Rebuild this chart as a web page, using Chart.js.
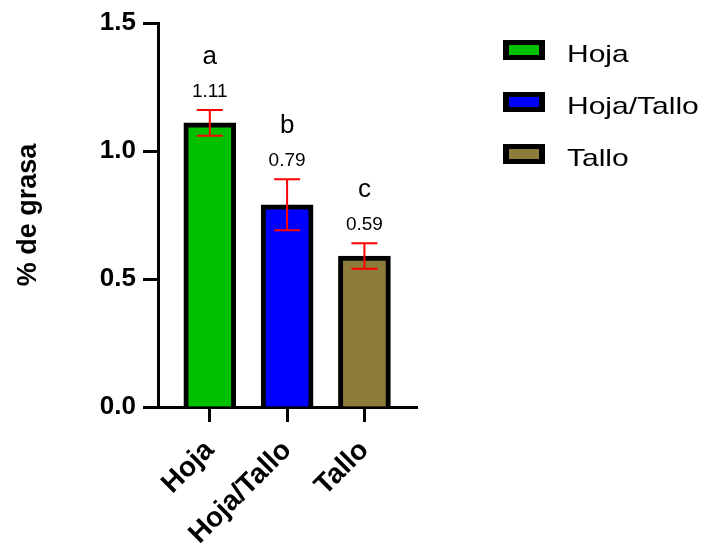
<!DOCTYPE html>
<html><head><meta charset="utf-8">
<script src="https://cdn.jsdelivr.net/npm/chart.js@4/dist/chart.umd.min.js"></script>
<style>html,body{margin:0;padding:0;background:#fff}canvas{display:block}</style>
</head><body>
<div style="width:706px;height:544px"><canvas id="c" width="706" height="544"></canvas></div>
<script>
const categories = ['Hoja', 'Hoja/Tallo', 'Tallo'];
const grasa = [1.11, 0.79, 0.59];
const sem = [0.05, 0.10, 0.05];
const letters = ['a', 'b', 'c'];
const yTicks = [0, 0.5, 1.0, 1.5];
const barColors = ['#00c000', '#0000ff', '#8c7b3a'];
const FONT = '"Liberation Sans", Arial, Helvetica, sans-serif';

const overlay = {
  id: 'overlay',
  afterDatasetsDraw(chart) {
    const ctx = chart.ctx, x = chart.scales.x, y = chart.scales.y;
    ctx.save();
    grasa.forEach((v, i) => {
      const px = x.getPixelForValue(i);
      const top = y.getPixelForValue(v + sem[i]);
      const bot = y.getPixelForValue(v - sem[i]);
      ctx.strokeStyle = '#ff0000';
      ctx.lineWidth = 2;
      ctx.beginPath();
      ctx.moveTo(px, top); ctx.lineTo(px, bot);
      ctx.moveTo(px - 13, top); ctx.lineTo(px + 13, top);
      ctx.moveTo(px - 13, bot); ctx.lineTo(px + 13, bot);
      ctx.stroke();
      ctx.fillStyle = '#000';
      ctx.textAlign = 'center';
      ctx.textBaseline = 'alphabetic';
      ctx.font = '19px ' + FONT;
      ctx.fillText(v.toFixed(2), px, top - 13);
      ctx.font = '26px ' + FONT;
      ctx.fillText(letters[i], px, top - 46);
    });
    ctx.restore();
  },
  afterDraw(chart) {
    const ctx = chart.ctx;
    ctx.save();
    categories.forEach((name, i) => {
      const cy = 50 + i * 52;
      ctx.fillStyle = '#000';
      ctx.fillRect(503, cy - 10, 42, 20);
      ctx.fillStyle = barColors[i];
      ctx.fillRect(509, cy - 5, 30, 10);
      ctx.fillStyle = '#000';
      ctx.font = '24px ' + FONT;
      ctx.textAlign = 'left';
      ctx.textBaseline = 'alphabetic';
      ctx.save();
      ctx.translate(567, cy + 12);
      ctx.scale(1.25, 1);
      ctx.fillText(name, 0, 0);
      ctx.restore();
    });
    ctx.restore();
  }
};

new Chart(document.getElementById('c'), {
  type: 'bar',
  data: {
    datasets: [{
      label: '% de grasa',
      data: grasa.map((v, i) => ({ x: i, y: v })),
      backgroundColor: barColors,
      borderColor: '#000',
      borderWidth: 5,
      borderSkipped: 'start',
      barThickness: 52
    }]
  },
  options: {
    responsive: false,
    animation: false,
    devicePixelRatio: 1,
    layout: { padding: { top: 23, right: 289, left: 0, bottom: 0 } },
    plugins: { legend: { display: false }, tooltip: { enabled: false } },
    scales: {
      x: {
        type: 'linear',
        offset: false,
        bounds: 'data',
        min: -0.67,
        max: 2.68,
        afterBuildTicks: s => { s.ticks = categories.map((c, i) => ({ value: i })); },
        afterFit: s => { s.height = 137; },
        ticks: {
          callback: v => categories[v],
          autoSkip: false,
          minRotation: 45,
          maxRotation: 45,
          padding: 12,
          color: '#000',
          font: { family: FONT, size: 28, weight: 'bold' }
        },
        grid: { offset: false, drawOnChartArea: false, drawTicks: true, tickLength: 15, tickWidth: 3, tickColor: '#000' },
        border: { display: true, color: '#000', width: 3 }
      },
      y: {
        min: 0,
        max: 1.5,
        afterBuildTicks: s => { s.ticks = yTicks.map(v => ({ value: v })); },
        afterFit: s => { s.width = 158; },
        ticks: {
          callback: v => Number(v).toFixed(1),
          padding: 7,
          color: '#000',
          font: { family: FONT, size: 26, weight: 'bold' }
        },
        title: {
          display: true,
          text: '% de grasa',
          color: '#000',
          padding: { top: 12, bottom: 0 },
          font: { family: FONT, size: 27, weight: 'bold' }
        },
        grid: { drawOnChartArea: false, drawTicks: true, tickLength: 15, tickWidth: 3, tickColor: '#000' },
        border: { display: true, color: '#000', width: 3 }
      }
    }
  },
  plugins: [overlay]
});
</script>
</body></html>
